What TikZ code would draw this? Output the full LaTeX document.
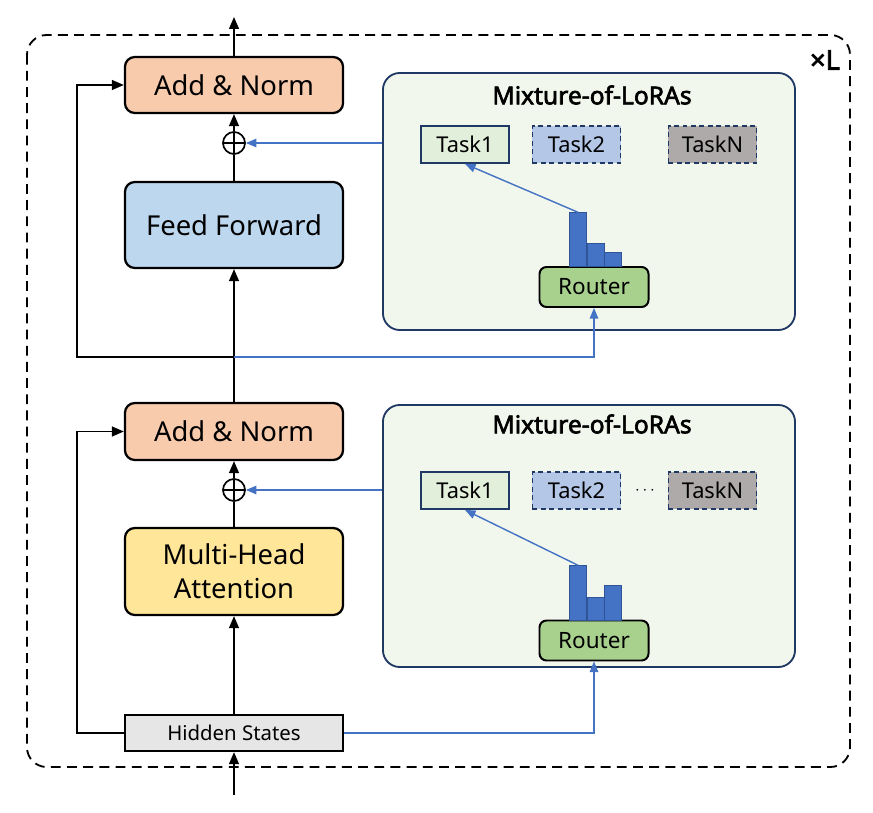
\documentclass[tikz,border=0pt]{standalone}
\usepackage{fontspec}
\setmainfont{Noto Sans}
\newfontfamily\boldsans{Noto Sans}[FakeBold=2.6]
\usetikzlibrary{arrows.meta,positioning}

\definecolor{normfill}{HTML}{F8CBAD}
\definecolor{fffill}{HTML}{BDD7EE}
\definecolor{attnfill}{HTML}{FFE699}
\definecolor{hidfill}{HTML}{E7E6E6}
\definecolor{molfill}{HTML}{F1F7EC}
\definecolor{molline}{HTML}{203864}
\definecolor{taskonefill}{HTML}{E2EFDA}
\definecolor{tasktwofill}{HTML}{B4C7E7}
\definecolor{tasknfill}{HTML}{AEAAAA}
\definecolor{routerfill}{HTML}{A9D18E}
\definecolor{loraline}{HTML}{4472C4}
\definecolor{barline}{HTML}{2F5597}

\begin{document}
\begin{tikzpicture}[x=0.025cm,y=-0.025cm,
    block/.style={draw,line width=1.6pt,rounded corners=7pt,minimum width=5.45cm,
        inner sep=0pt,align=center,font=\fontsize{19.5}{24}\selectfont},
    oplus/.style={draw,circle,line width=1.2pt,minimum size=0.55cm,inner sep=0pt,
        path picture={\draw[line width=1.2pt]
            (path picture bounding box.north) -- (path picture bounding box.south)
            (path picture bounding box.west) -- (path picture bounding box.east);}},
    mol/.style={draw=molline,fill=molfill,line width=1.3pt,rounded corners=12pt,
        minimum width=10.3cm,inner sep=0pt},
    motitle/.style={font=\fontsize{17.5}{20}\selectfont\boldsans},
    task/.style={draw=molline,line width=1.3pt,minimum width=2.2cm,minimum height=0.925cm,
        inner sep=0pt,font=\fontsize{15.5}{17}\selectfont},
    router/.style={draw,fill=routerfill,line width=1.4pt,rounded corners=5pt,
        minimum width=2.725cm,minimum height=1cm,inner sep=0pt,font=\fontsize{16}{18}\selectfont},
    bar/.style={draw=barline,fill=loraline,line width=0.5pt,minimum width=0.42cm,
        inner sep=0pt,anchor=south},
    arr/.style={line width=1.2pt,-{Triangle[length=8.5pt,width=7pt]}},
    bluearr/.style={draw=loraline,line width=1pt,-{Triangle[length=7.5pt,width=6pt]}}
]
\useasboundingbox (0,0) rectangle (873,813);

% outer frame
\draw[line width=1.3pt,dash pattern=on 7pt off 4.5pt,rounded corners=14pt]
    (27,35) rectangle (850,767);
\node[font=\fontsize{19.5}{21}\selectfont\boldsans] (times) at (825,60) {×L};

% transformer block
\node[block,fill=hidfill,rounded corners=0pt,minimum height=0.9cm,
    font=\fontsize{14.5}{16}\selectfont] (hs) at (234,733) {Hidden States};
\node[block,fill=attnfill,minimum height=2.175cm] (mha) at (234,571.5) {Multi-Head\\Attention};
\node[oplus] (op1) at (234,490) {};
\node[block,fill=normfill,minimum height=1.425cm] (an1) at (234,431.5) {Add \& Norm};
\node[block,fill=fffill,minimum height=2.15cm] (ff) at (234,225) {Feed Forward};
\node[oplus] (op2) at (234,143) {};
\node[block,fill=normfill,minimum height=1.4cm] (an2) at (234,85) {Add \& Norm};

\coordinate (in) at (234,795);
\coordinate (out) at (234,17);
\coordinate (j2) at (234,357);

\draw[arr] (in) -- (hs.south);
\draw[arr] (hs.north) -- (mha.south);
\draw[line width=1.2pt] (mha.north) -- (op1.south);
\draw[arr] (op1.north) -- (an1.south);
\draw[arr] (an1.north) -- (ff.south);
\draw[line width=1.2pt] (ff.north) -- (op2.south);
\draw[arr] (op2.north) -- (an2.south);
\draw[arr] (an2.north) -- (out);

% residual paths
\draw[arr] (hs.west) -- (77,733) |- (an1.west);
\draw[arr] (j2) -- (77,357) |- (an2.west);

% upper mixture-of-loras
\node[mol,minimum height=6.425cm] (mol2) at (589,201.5) {};
\node[motitle] (title2) at (592,95) {Mixture-of-LoRAs};
\node[task,fill=taskonefill] (t21) at (465,144.5) {Task1};
\node[task,fill=tasktwofill,dash pattern=on 3.5pt off 2.5pt] (t22) at (576.5,144.5) {Task2};
\node[task,fill=tasknfill,dash pattern=on 3.5pt off 2.5pt] (t2n) at (712.5,144.5) {TaskN};
\node[router] (r2) at (594,287) {Router};
\node[bar,minimum height=1.35cm] (b21) at (578,267) {};
\node[bar,minimum height=0.575cm,right=0pt of b21.south east,anchor=south west] (b22) {};
\node[bar,minimum height=0.35cm,right=0pt of b22.south east,anchor=south west] (b23) {};
\draw[bluearr] (b21.north) -- (t21.south);

% lower mixture-of-loras
\node[mol,minimum height=6.55cm] (mol1) at (589,536) {};
\node[motitle] (title1) at (592,424) {Mixture-of-LoRAs};
\node[task,fill=taskonefill] (t11) at (465,490.5) {Task1};
\node[task,fill=tasktwofill,dash pattern=on 3.5pt off 2.5pt] (t12) at (576.5,490.5) {Task2};
\node[task,fill=tasknfill,dash pattern=on 3.5pt off 2.5pt] (t1n) at (712.5,490.5) {TaskN};
\node[font=\large] (dots) at (645,490.5) {$\cdots$};
\node[router] (r1) at (594,640.5) {Router};
\node[bar,minimum height=1.375cm] (b11) at (578,621) {};
\node[bar,minimum height=0.575cm,right=0pt of b11.south east,anchor=south west] (b12) {};
\node[bar,minimum height=0.875cm,right=0pt of b12.south east,anchor=south west] (b13) {};
\draw[bluearr] (b11.north) -- (t11.south);

% lora connections
\draw[bluearr] (op2 -| mol2.west) -- (op2.east);
\draw[bluearr] (op1 -| mol1.west) -- (op1.east);
\draw[bluearr] (j2) -| (r2.south);
\draw[bluearr] (hs.east) -| (r1.south);
\end{tikzpicture}
\end{document}
